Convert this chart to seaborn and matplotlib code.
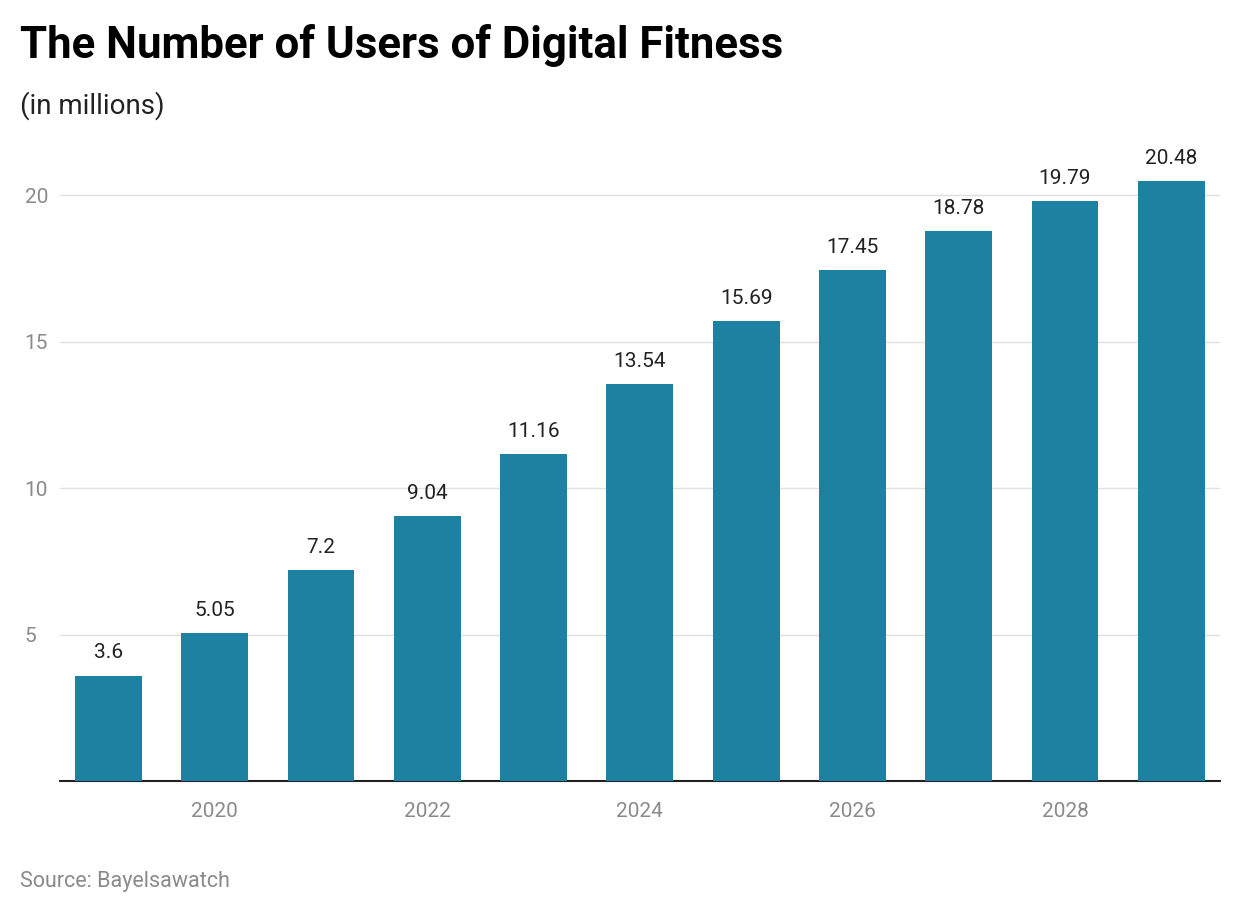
import matplotlib
matplotlib.use("Agg")
import matplotlib.pyplot as plt
import seaborn as sns
import pandas as pd


# DADOS

years = [2019, 2020, 2021, 2022, 2023, 2024, 2025, 2026, 2027, 2028, 2029]
users = [3.6, 5.05, 7.2, 9.04, 11.16, 13.54, 15.69, 17.45, 18.78, 19.79, 20.48]
value_labels = ["3.6", "5.05", "7.2", "9.04", "11.16", "13.54",
                "15.69", "17.45", "18.78", "19.79", "20.48"]
shown_years = [2020, 2022, 2024, 2026, 2028]
y_ticks = [5, 10, 15, 20]

df = pd.DataFrame({"year": [str(y) for y in years], "users": users})


# ESTILO

sns.set_theme(style="white")
plt.rcParams["font.family"] = ["Roboto", "DejaVu Sans"]

BAR_COLOR = "#1d82a2"
GRAY = "#8a8a8a"


# FIGURA

fig = plt.figure(figsize=(12.4, 9.14), dpi=100)
ax = fig.add_axes([0.048, 0.1455, 0.936, 0.705])

sns.barplot(
    data=df,
    x="year",
    y="users",
    color=BAR_COLOR,
    width=0.63,
    saturation=1,
    linewidth=0,
    ax=ax,
    zorder=3
)

for i, v in enumerate(users):
    ax.text(
        i, v + 0.45, value_labels[i],
        ha="center", va="bottom",
        fontsize=15, color="#222222"
    )

ax.set_xlim(-0.46, 10.46)
ax.set_ylim(0, 22)

positions = [years.index(y) for y in shown_years]
ax.set_xticks(positions)
ax.set_xticklabels([str(y) for y in shown_years], fontsize=15, color=GRAY)
ax.set_yticks(y_ticks)
ax.set_yticklabels([str(t) for t in y_ticks], fontsize=15, color=GRAY)
ax.tick_params(axis="x", length=0, pad=15)
ax.tick_params(axis="y", length=0, pad=0)
for lbl in ax.get_yticklabels():
    lbl.set_horizontalalignment("left")
    lbl.set_x(-0.03)

ax.yaxis.grid(True, color="#e0e0e0", linewidth=1, zorder=0)
ax.set_axisbelow(True)
for side in ["top", "right", "left"]:
    ax.spines[side].set_visible(False)
ax.spines["bottom"].set_color("#222222")
ax.spines["bottom"].set_linewidth(1.5)

ax.set_xlabel("")
ax.set_ylabel("")


# TEXTOS

fig.text(0.016, 0.95, "The Number of Users of Digital Fitness",
         fontsize=31.5, fontweight="bold", color="#000000", va="center")
fig.text(0.016, 0.884, "(in millions)",
         fontsize=20, color="#222222", va="center")
fig.text(0.016, 0.036, "Source: Bayelsawatch",
         fontsize=15.5, color=GRAY, va="center")

fig.savefig("out.png", dpi=100)
